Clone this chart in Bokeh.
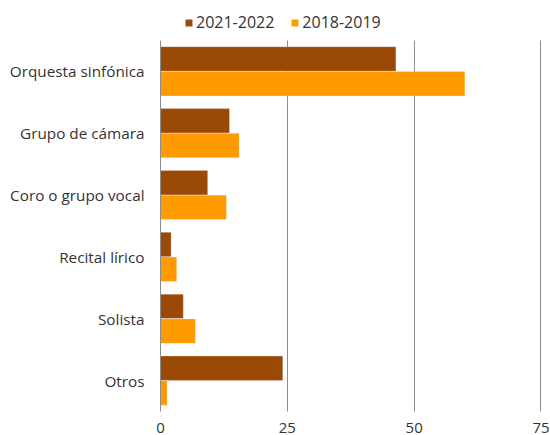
from bokeh.plotting import figure
from bokeh.models import ColumnDataSource, FixedTicker, Legend, LegendItem, Range1d
from bokeh.embed import file_html
from bokeh.resources import INLINE

categories = ["Orquesta sinfónica", "Grupo de cámara", "Coro o grupo vocal",
              "Recital lírico", "Solista", "Otros"]
v_2021_2022 = [46.4, 13.6, 9.3, 2.1, 4.5, 24.1]
v_2018_2019 = [60.0, 15.5, 13.0, 3.2, 6.9, 1.3]
x_ticks = [0, 25, 50, 75]
series_names = ["2021-2022", "2018-2019"]

DARK = "#9B4A06"
ORANGE = "#FF9A00"
FONT = "Open Sans"
GRID = "#8c8c8c"

n = len(categories)
ypos = [n - 1 - i for i in range(n)]  # first category on top
src = ColumnDataSource(dict(cat=categories, y=ypos,
                            ya=[y + 0.2 for y in ypos], yb=[y - 0.2 for y in ypos],
                            a=v_2021_2022, b=v_2018_2019))

p = figure(width=550, height=435, output_backend="svg", toolbar_location=None,
           x_range=Range1d(0, 75.1), y_range=Range1d(-0.532, n - 0.5 + 0.645),
           min_border_left=160, min_border_right=9, min_border_top=0, min_border_bottom=0)
p.outline_line_color = None

r1 = p.hbar(y="ya", right="a", left=0, height=0.395, source=src,
            fill_color=DARK, line_color="#ffffff", line_alpha=0.5, line_width=0.5)
r2 = p.hbar(y="yb", right="b", left=0, height=0.395, source=src,
            fill_color=ORANGE, line_color="#ffffff", line_alpha=0.5, line_width=0.5)

p.xaxis.ticker = FixedTicker(ticks=x_ticks)
p.xaxis.axis_line_color = None
p.xaxis.major_tick_line_color = None
p.xaxis.minor_tick_line_color = None
p.xaxis.major_label_standoff = 3
p.xaxis.major_label_text_font = FONT
p.xaxis.major_label_text_font_size = "15px"
p.xaxis.major_label_text_color = "#333333"

p.yaxis.ticker = FixedTicker(ticks=ypos)
p.yaxis.major_label_overrides = {y: c for y, c in zip(ypos, categories)}
p.yaxis.bounds = (-0.5, n - 0.5)
p.yaxis.axis_line_color = GRID
p.yaxis.major_tick_line_color = None
p.yaxis.minor_tick_line_color = None
p.yaxis.major_label_standoff = 10
p.yaxis.major_label_text_font = FONT
p.yaxis.major_label_text_font_size = "15.3px"
p.yaxis.major_label_text_color = "#333333"

p.xgrid.grid_line_color = GRID
p.xgrid.grid_line_width = 1
p.xgrid.cross_bounds = (-0.5, n - 0.5)
p.ygrid.grid_line_color = None

legend = Legend(items=[LegendItem(label=series_names[0], renderers=[r1]),
                       LegendItem(label=series_names[1], renderers=[r2])],
                orientation="horizontal", location=(24, 380),
                glyph_width=9, glyph_height=9, label_standoff=3, spacing=16,
                padding=4, margin=0, border_line_color=None,
                label_text_font=FONT, label_text_font_size="16px",
                label_text_color="#333333", background_fill_alpha=0)
p.add_layout(legend, "center")

open("out.html", "w").write(file_html(p, INLINE))
